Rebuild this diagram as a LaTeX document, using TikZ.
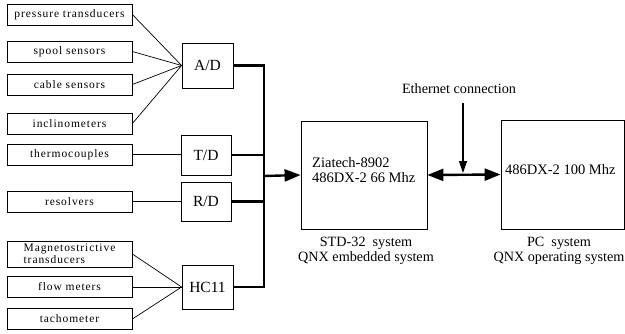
\documentclass[tikz,border=0pt]{standalone}
\usepackage{fontspec}
\setmainfont{Liberation Serif}
\newfontfamily\sensorfont[LetterSpace=8]{Liberation Serif}
\usetikzlibrary{arrows.meta}
\begin{document}
\begin{tikzpicture}[x=1pt, y=-1pt,
    sensor/.style={draw, line width=0.8pt, minimum width=125pt, minimum height=21pt, inner sep=0pt,
      font=\sensorfont\fontsize{11.5}{12}\selectfont, align=left},
    conv/.style={draw, line width=0.8pt, minimum width=51pt, inner sep=0pt, font=\fontsize{15.5}{18}\selectfont},
    cpu/.style={draw, line width=0.8pt, inner sep=0pt},
    wire/.style={line width=0.7pt},
    bus/.style={line width=2.4pt},
    bigtip/.style={-{Triangle[length=16pt,width=12pt]}},
    txt/.style={font=\fontsize{14.2}{15}\selectfont, inner sep=0pt}]
  \useasboundingbox (0,0) rectangle (625,333);
  \foreach \nm/\y/\name in {
      pt/14.5/{pressure transducers},
      ss/51.5/{spool sensors},
      cs/84.5/{cable sensors},
      ic/123.5/{inclinometers},
      tc/154.5/{thermocouples},
      rs/201.5/{resolvers},
      fm/287/{flow meters},
      ta/319/{tachometer}}
    \node[sensor] (\nm) at (69.5,\y) {\name};
  \node[sensor, minimum height=26pt] (mt) at (69.5,254) {Magnetostrictive\\transducers};
  \node[conv, minimum height=45pt] (ad) at (207.5,65.5) {A/D};
  \node[conv, minimum width=50pt, minimum height=40pt] (td) at (206,155) {T/D};
  \node[conv, minimum width=50pt, minimum height=39pt] (rd) at (206,201.5) {R/D};
  \node[conv, minimum height=44pt] (hc) at (207.5,287) {HC11};
  \node[cpu, minimum width=126pt, minimum height=108pt] (zt) at (364,175) {};
  \node[cpu, minimum width=123pt, minimum height=109pt] (pc) at (562.5,174.5) {};
  \node[txt, anchor=west, align=left, font=\fontsize{14.5}{15}\selectfont] (ztl) at (312,170.5) {Ziatech-8902\\486DX-2 66 Mhz};
  \node[txt, anchor=west, font=\fontsize{14.5}{15}\selectfont] (pcl) at (505,170) {486DX-2 100 Mhz};
  \node[txt, align=center] (ztc) at (366,250.5) {STD-32\ \ system\\QNX embedded system};
  \node[txt, align=center] (pcc) at (559,251) {PC\ \ system\\QNX operating system};
  \node[txt] (eth) at (459,89) {Ethernet connection};
  \foreach \s in {pt,ss,cs,ic} \draw[wire] (\s.east) -- (ad.west);
  \foreach \s in {mt,fm,ta} \draw[wire] (\s.east) -- (hc.west);
  \draw[wire] (tc.east) -- (td.west |- tc.east);
  \draw[wire] (rs.east) -- (rd.west);
  \coordinate (bus) at (264,176);
  \draw[bus] (ad.east) -| (bus);
  \draw[bus] (hc.east) -| (bus);
  \draw[bus] (td.east) -- (td.east -| bus);
  \draw[bus] (rd.east) -- (rd.east -| bus);
  \draw[bus, bigtip] (bus) -- (zt.west);
  \draw[bus, {Triangle[length=16pt,width=12pt]}-{Triangle[length=16pt,width=12pt]}] (zt.east) -- (pc.west);
  \coordinate (ethtop) at (463,103);
  \coordinate (ethend) at (463,173);
  \draw[line width=1.3pt, -{Triangle[length=12pt,width=8pt]}] (ethtop) -- (ethend);
\end{tikzpicture}
\end{document}
